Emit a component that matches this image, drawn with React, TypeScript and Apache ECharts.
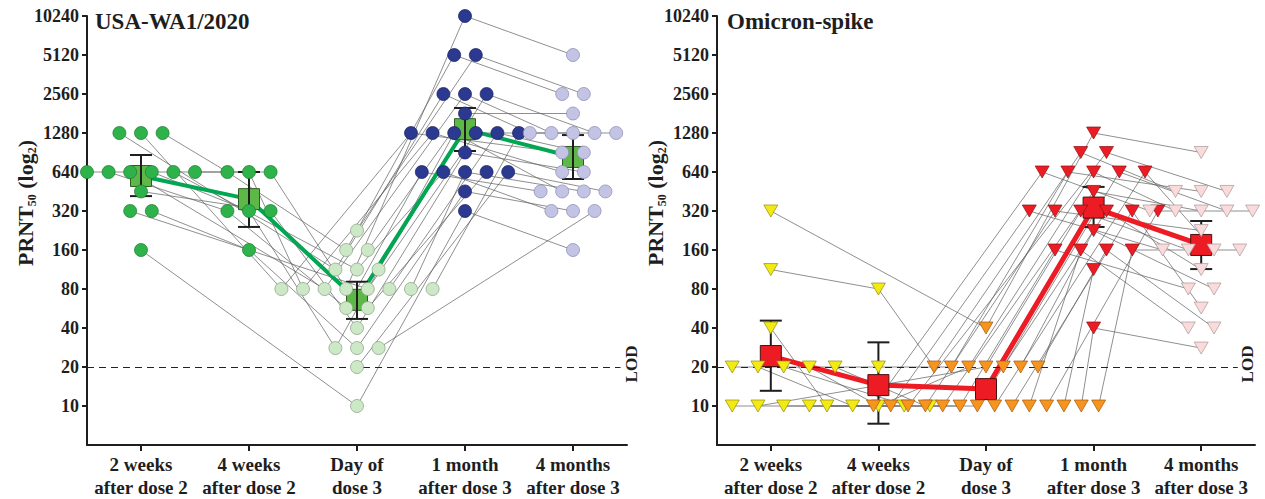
import React, { useEffect, useRef } from "react";
import * as echarts from "echarts";

// ---------- data ----------
const timepoints = [
  "2 weeks\nafter dose 2",
  "4 weeks\nafter dose 2",
  "Day of\ndose 3",
  "1 month\nafter dose 3",
  "4 months\nafter dose 3",
];
const yTicks = [10, 20, 40, 80, 160, 320, 640, 1280, 2560, 5120, 10240];
const LOD = 20;

// USA-WA1/2020 panel: one entry per subject (aligned by index)
const wa1Week2 = [1280, 1280, 1280, 640, 640, 640, 640, 640, 640, 453, 320, 320, 160, null, null, null, null, null, null, null, null, null];
const wa1Week4 = [null, null, 640, 640, 320, null, 320, null, 640, 320, null, 160, null, null, null, null, null, null, null, null, null, null];
const wa1Day0 = [113, 80, 160, 80, 57, 80, 28, 113, 80, 40, 80, 28, 10, 226, 160, 113, 80, 80, 80, 57, 20, 28];
const wa1Month1 = [2560, 1280, 5120, 1280, 640, 2560, 1280, 640, 10240, 905, 1280, 453, 320, 5120, 1810, 2560, 1280, 640, 1280, 640, 640, null];
const wa1Month4 = [1280, 905, 2560, 640, 453, 1280, 453, 320, 5120, 640, 1280, 320, 160, 2560, 1810, 1280, 905, 453, 1280, null, 453, 320];
const wa1Mean = [596, 395, 66, 1370, 836];
const wa1Low = [417, 241, 47, 930, 565];
const wa1High = [866, 640, 91, 1995, 1234];

// Omicron-spike panel
const omiWeek2 = [320, 113, 40, 20, 20, 20, 20, 20, 10, 10, 10, 10, null, null, null, null, null, null, null, null, null, null];
const omiWeek4 = [null, 80, 10, 20, 10, null, 10, null, 10, null, 10, null, null, null, null, null, null, null, null, null, null, null];
const omiDay0 = [40, 20, 10, 20, 10, 10, 20, 10, 10, 20, 10, 10, 20, 10, 10, 20, 10, 10, 20, 10, 10, 10];
const omiMonth1 = [1280, 905, 640, 640, 320, 905, 640, 320, 453, 320, 160, 320, 640, 640, 320, 226, 160, 320, 160, 113, 40, 160];
const omiMonth4 = [905, 453, 320, 453, 160, 453, 320, 226, 320, 160, 80, 113, 320, 160, 57, 80, 40, 320, 40, null, 28, 160];
const omiMean = [24.3, 14.5, 13.5, 340, 175];
const omiLow = [13.1, 7.3, null, 241, 114];
const omiHigh = [45.6, 31, null, 491, 268];

// ---------- styles ----------
const FONT = "'Liberation Serif', 'Times New Roman', serif";
const INK = "#1e1e1e";

const wa1Colors = [
  { fill: "#2DB34A", border: "#1E7A33" },
  { fill: "#2DB34A", border: "#1E7A33" },
  { fill: "#CDE8C6", border: "#84A080" },
  { fill: "#2B3990", border: "#1A2260" },
  { fill: "#C3C3E5", border: "#8A8AB0" },
];
const omiColors = [
  { fill: "#F4EA13", border: "#8F8A10" },
  { fill: "#F4EA13", border: "#8F8A10" },
  { fill: "#F7941D", border: "#9C5A12" },
  { fill: "#ED1C24", border: "#8A1015" },
  { fill: "#FBDADB", border: "#A89898" },
];

const ty = (v: number) => Math.log2(v / 10);

function layout(cols: (number | null)[][], spacing: number[], shift: number[]) {
  const n = cols[0].length;
  const pos: ([number, number] | null)[][] = [];
  for (let i = 0; i < n; i++) pos.push([null, null, null, null, null]);
  for (let t = 0; t < cols.length; t++) {
    const groups = new Map<number, number[]>();
    cols[t].forEach((v, i) => {
      if (v == null) return;
      if (!groups.has(v)) groups.set(v, []);
      groups.get(v)!.push(i);
    });
    groups.forEach((idxs, v) => {
      const m = idxs.length;
      const s = m % 2 === 1 && m > 1 ? shift[t] : 0;
      idxs.forEach((i, k) => {
        pos[i][t] = [t + (k - (m - 1) / 2 + s) * spacing[t], ty(v)];
      });
    });
  }
  return pos;
}

function panelSeries(
  idx: number,
  cols: (number | null)[][],
  spacing: number[],
  shift: number[],
  colors: { fill: string; border: string }[],
  mean: number[],
  low: (number | null)[],
  high: (number | null)[],
  symbol: string,
  symbolSize: any,
  symbolRotate: number,
  meanColor: string,
  meanBorder: string,
  lineColor: string,
  lineWidth: number,
  errZ: number,
  lodEnd: number
) {
  const pos = layout(cols, spacing, shift);
  const series: any[] = [];
  pos.forEach((p) => {
    const pts = p.filter((q) => q != null);
    if (pts.length < 2) return;
    series.push({
      type: "line",
      xAxisIndex: idx,
      yAxisIndex: idx,
      data: pts,
      symbol: "none",
      silent: true,
      z: 1,
      lineStyle: { color: "#5e5e5e", width: 0.7 },
    });
  });
  series.push({
    type: "line",
    xAxisIndex: idx,
    yAxisIndex: idx,
    data: [],
    silent: true,
    z: 1,
    markLine: {
      silent: true,
      symbol: "none",
      label: { show: false },
      lineStyle: { color: "#222", width: 1, type: [7, 5] },
      data: [[{ coord: [-0.5, ty(LOD)] }, { coord: [lodEnd, ty(LOD)] }]],
    },
  });
  series.push({
    type: "line",
    xAxisIndex: idx,
    yAxisIndex: idx,
    data: mean.map((m, t) => [t, ty(m)]),
    symbol: "rect",
    symbolSize: 21,
    z: 3,
    silent: true,
    lineStyle: { color: lineColor, width: lineWidth },
    itemStyle: { color: meanColor, borderColor: meanBorder, borderWidth: 1 },
  });
  const errData: number[][] = [];
  mean.forEach((_, t) => {
    if (low[t] != null && high[t] != null) errData.push([t, ty(low[t] as number), ty(high[t] as number)]);
  });
  series.push({
    type: "custom",
    xAxisIndex: idx,
    yAxisIndex: idx,
    z: errZ,
    silent: true,
    encode: { x: 0, y: [1, 2] },
    data: errData,
    renderItem: (params: any, api: any) => {
      const x = api.value(0);
      const pLo = api.coord([x, api.value(1)]);
      const pHi = api.coord([x, api.value(2)]);
      const hw = 11;
      const style = { stroke: INK, lineWidth: 2, fill: null };
      return {
        type: "group",
        children: [
          { type: "line", shape: { x1: pLo[0], y1: pLo[1], x2: pHi[0], y2: pHi[1] }, style },
          { type: "line", shape: { x1: pLo[0] - hw, y1: pLo[1], x2: pLo[0] + hw, y2: pLo[1] }, style },
          { type: "line", shape: { x1: pHi[0] - hw, y1: pHi[1], x2: pHi[0] + hw, y2: pHi[1] }, style },
        ],
      };
    },
  });
  for (let t = 0; t < cols.length; t++) {
    const data: [number, number][] = [];
    pos.forEach((p) => {
      if (p[t]) data.push(p[t] as [number, number]);
    });
    series.push({
      type: "scatter",
      xAxisIndex: idx,
      yAxisIndex: idx,
      data,
      symbol,
      symbolSize,
      symbolRotate,
      z: 5,
      silent: true,
      itemStyle: { color: colors[t].fill, borderColor: colors[t].border, borderWidth: 0.7, opacity: 1 },
    });
  }
  return series;
}

function makeXAxis(idx: number) {
  return {
    type: "value",
    gridIndex: idx,
    min: -0.5,
    max: 4.5,
    splitLine: { show: false },
    axisLine: { show: true, onZero: false, lineStyle: { color: INK, width: 2 } },
    axisTick: { show: true, length: 6, customValues: [0, 1, 2, 3, 4], lineStyle: { color: INK, width: 2 } },
    axisLabel: {
      customValues: [0, 1, 2, 3, 4],
      formatter: (v: number) => timepoints[Math.round(v)] ?? "",
      fontFamily: FONT,
      fontWeight: "bold",
      fontSize: 19,
      lineHeight: 23,
      color: INK,
      margin: 8,
    },
  };
}

function makeYAxis(idx: number) {
  const tv = yTicks.map(ty);
  return {
    type: "value",
    gridIndex: idx,
    min: -1,
    max: 10,
    interval: 1,
    splitLine: { show: false },
    axisLine: { show: true, onZero: false, lineStyle: { color: INK, width: 2 } },
    axisTick: { show: true, length: 5, customValues: tv, lineStyle: { color: INK, width: 2 } },
    axisLabel: {
      customValues: tv,
      formatter: (v: number) => (v < -0.01 ? "" : String(Math.round(10 * Math.pow(2, v)))),
      fontFamily: FONT,
      fontWeight: "bold",
      fontSize: 18,
      color: INK,
      margin: 8,
    },
  };
}

function yName(x: number) {
  return {
    type: "text",
    x,
    y: 203,
    rotation: Math.PI / 2,
    style: {
      text: "{a|PRNT}{s|50}{a| (log}{s|2}{a|)}",
      align: "center",
      verticalAlign: "middle",
      fill: INK,
      rich: {
        a: { fontFamily: FONT, fontWeight: "bold", fontSize: 22, lineHeight: 26, fill: INK },
        s: { fontFamily: FONT, fontWeight: "bold", fontSize: 12, lineHeight: 12, verticalAlign: "bottom", fill: INK },
      },
    },
  };
}

function textEl(text: string, x: number, y: number, size: number, rot = 0, align = "left") {
  return {
    type: "text",
    x,
    y,
    rotation: rot,
    style: { text, fontFamily: FONT, fontWeight: "bold", fontSize: size, fill: INK, align, verticalAlign: "middle" },
  };
}

export default function App() {
  const ref = useRef<HTMLDivElement>(null);
  useEffect(() => {
    if (!ref.current) return;
    const chart = echarts.init(ref.current, undefined, { renderer: "svg" });
    const wa1Cols = [wa1Week2, wa1Week4, wa1Day0, wa1Month1, wa1Month4];
    const omiCols = [omiWeek2, omiWeek4, omiDay0, omiMonth1, omiMonth4];
    const series = [
      ...panelSeries(0, wa1Cols, [0.2, 0.2, 0.2, 0.2, 0.2], [0, 0, 0, 0, 0], wa1Colors, wa1Mean, wa1Low, wa1High,
        "circle", 13, 0, "#5DB848", "#2F5E25", "#00A651", 4, 4, 4.44),
      ...panelSeries(1, omiCols, [0.239, 0.239, 0.161, 0.239, 0.239], [0.5, 0, 0, 0, 0], omiColors, omiMean, omiLow, omiHigh,
        "triangle", [14, 12], 180, "#ED1C24", "#4A1010", "#ED1C24", 5, 2, 4.34),
    ];
    chart.setOption({
      animation: false,
      backgroundColor: "#ffffff",
      grid: [
        { left: 87, top: 16, width: 540, height: 430, containLabel: false },
        { left: 717, top: 16, width: 538, height: 430, containLabel: false },
      ],
      xAxis: [makeXAxis(0), makeXAxis(1)],
      yAxis: [makeYAxis(0), makeYAxis(1)],
      graphic: [
        textEl("USA-WA1/2020", 95, 21, 23),
        textEl("Omicron-spike", 727, 21, 23),
        yName(25),
        yName(655),
        textEl("LOD", 631, 364, 17, Math.PI / 2, "center"),
        textEl("LOD", 1247, 364, 17, Math.PI / 2, "center"),
      ],
      series,
    });
    return () => chart.dispose();
  }, []);
  return (
    <div
      ref={ref}
      style={{ position: "fixed", left: 0, top: 0, width: 1265, height: 499, background: "#fff" }}
    />
  );
}
